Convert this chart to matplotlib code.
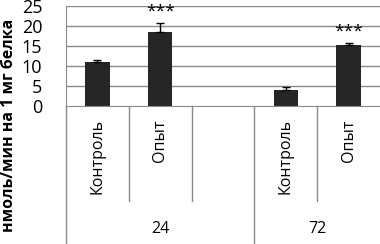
import numpy as np
import matplotlib
matplotlib.use("Agg")
from matplotlib import pyplot as plt

# dati
categorie = ['Контроль', 'Опыт', '', 'Контроль', 'Опыт']
gruppi = ['24', '72']
valori = [11.0, 18.4, np.nan, 4.0, 15.3]
errori = [0.4, 2.4, 0.0, 0.7, 0.4]
stelle = ['', '***', '', '', '***']
ytick_vals = [0, 5, 10, 15, 20, 25]

plt.rcParams['font.family'] = ['Open Sans', 'DejaVu Sans']

fig = plt.figure(figsize=(3.8, 2.44), dpi=100)
ax = fig.add_axes([66/380, (244-106)/244, 314/380, 100/244])

x = np.arange(len(categorie))
grigio = '#8a8a8a'

for yv in ytick_vals[1:]:
    ax.axhline(yv, color=grigio, lw=1, zorder=0)

ax.bar(x, valori, width=0.39, color='#262626', zorder=2)
ax.errorbar(x, valori, yerr=[np.zeros(len(errori)), errori], fmt='none',
            ecolor='black', elinewidth=1, capsize=3, capthick=1, zorder=3)

for xi, v, e, s in zip(x, valori, errori, stelle):
    if s:
        ax.text(xi, v + e + 0.8, s, ha='center', va='bottom', fontsize=12.5)

ax.set_xlim(-0.5, len(categorie) - 0.5)
ax.set_ylim(0, 25)
ax.set_yticks(ytick_vals)
ax.tick_params(axis='y', length=0, pad=17, labelsize=13)
ax.tick_params(axis='x', length=0, labelbottom=False)
for lato in ['top', 'right']:
    ax.spines[lato].set_visible(False)
ax.spines['left'].set_color(grigio)
ax.spines['bottom'].set_color(grigio)

# etichette di categoria e linee di separazione
for xi, c in zip(x, categorie):
    if c:
        ax.text(xi, -0.13, c, transform=ax.get_xaxis_transform(), rotation=90,
                ha='center', va='top', fontsize=11.5, clip_on=False)

sep_corte = [0.5, 1.5, 3.5]
sep_lunghe = [-0.5, 2.5]
for s in sep_corte:
    ax.plot([s, s], [0, -0.95], transform=ax.get_xaxis_transform(),
            color=grigio, lw=1, clip_on=False)
for s in sep_lunghe:
    ax.plot([s, s], [0, -1.4], transform=ax.get_xaxis_transform(),
            color=grigio, lw=1, clip_on=False)

pos_gruppi = [1.0, 3.5]
for g, p in zip(gruppi, pos_gruppi):
    ax.text(p, -1.23, g, transform=ax.get_xaxis_transform(),
            ha='center', va='center', fontsize=11.5, clip_on=False)

fig.text(9/380, (244-125)/244, 'нмоль/мин на 1 мг белка', rotation=90,
         ha='center', va='center', fontsize=11.5, fontweight='bold')

fig.savefig('out.png', dpi=100)
